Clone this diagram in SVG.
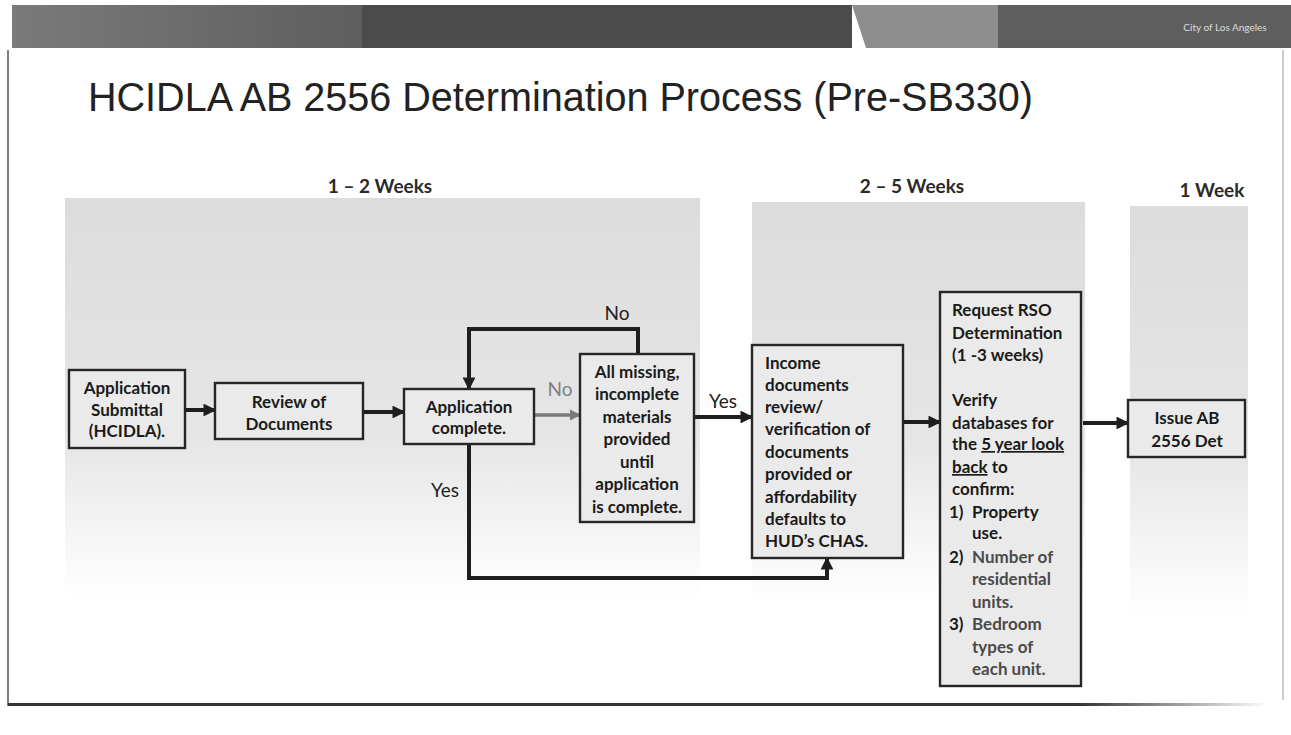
<svg xmlns="http://www.w3.org/2000/svg" width="1291" height="735" viewBox="0 0 1291 735">
<style>
.box{fill:#eaeaea;stroke:#262626;stroke-width:2.4}
.t{font-family:Lato,"Liberation Sans",sans-serif;font-weight:700;font-size:17px;fill:#1a1a1a}
.c{text-anchor:middle}
.lbl{font-family:Lato,"Liberation Sans",sans-serif;font-weight:400;font-size:19px;fill:#222;text-anchor:middle}
.wk{font-family:Lato,"Liberation Sans",sans-serif;font-weight:700;font-size:19px;fill:#2a2a2a;text-anchor:middle}
.lt{fill:#4a4a4a}
.con{fill:none;stroke:#1e1e1e;stroke-width:4;marker-end:url(#ah)}
</style>
<defs>
<marker id="ah" viewBox="0 0 10 10" refX="9" refY="5" markerWidth="3.2" markerHeight="3.2" orient="auto" markerUnits="strokeWidth"><path d="M0,0 L10,5 L0,10z" fill="#1e1e1e"/></marker>
<marker id="ahg" viewBox="0 0 10 10" refX="9" refY="5" markerWidth="3.2" markerHeight="3.2" orient="auto" markerUnits="strokeWidth"><path d="M0,0 L10,5 L0,10z" fill="#7a7a7a"/></marker>
<linearGradient id="band" x1="0" y1="0" x2="0" y2="1">
<stop offset="0" stop-color="#dcdcdc"/>
<stop offset="0.6" stop-color="#e6e6e6"/>
<stop offset="1" stop-color="#ffffff"/>
</linearGradient>
<linearGradient id="bot" x1="0" y1="0" x2="1" y2="0">
<stop offset="0" stop-color="#333"/>
<stop offset="0.85" stop-color="#333"/>
<stop offset="1" stop-color="#333" stop-opacity="0"/>
</linearGradient>
<linearGradient id="hdr" x1="0" y1="0" x2="1" y2="0">
<stop offset="0" stop-color="#7a7a7a"/>
<stop offset="1" stop-color="#5e5e5e"/>
</linearGradient>
</defs>
<rect width="1291" height="735" fill="#ffffff"/>
<g id="header">
<rect x="12" y="5" width="350" height="43" fill="url(#hdr)"/>
<rect x="362" y="5" width="490" height="43" fill="#4b4b4b"/>
<path d="M852,5 H998 V48 H866 Z" fill="#8e8e8e"/>
<rect x="998" y="5" width="293" height="43" fill="#5e5e5e"/>
<text x="1225" y="31" font-family="Lato,'Liberation Sans',sans-serif" font-size="10" fill="#dddddd" text-anchor="middle">City of Los Angeles</text>
</g>
<g id="frame" fill="none">
<path d="M8,50 V706" stroke="#555" stroke-width="1.5"/>
<path d="M1283,50 V700" stroke="#999" stroke-width="1"/>
<rect x="8" y="703" width="1260" height="3" fill="url(#bot)"/>
</g>
<text x="88" y="111" font-family="'Liberation Sans',Arial,sans-serif" font-size="41" fill="#222" textLength="945" lengthAdjust="spacingAndGlyphs">HCIDLA AB 2556 Determination Process (Pre-SB330)</text>
<g id="bands">
<rect x="65" y="198" width="635" height="400" fill="url(#band)"/>
<rect x="752" y="202" width="333" height="400" fill="url(#band)"/>
<rect x="1130" y="206" width="118" height="410" fill="url(#band)"/>
</g>
<text class="wk" x="380" y="193">1 – 2 Weeks</text>
<text class="wk" x="912" y="193">2 – 5 Weeks</text>
<text class="wk" x="1212" y="197">1 Week</text>
<g id="connectors">
<path class="con" d="M185,410 H215"/>
<path class="con" d="M363,412 H404"/>
<path d="M534,415 H580" fill="none" stroke="#7a7a7a" stroke-width="3.5" marker-end="url(#ahg)"/>
<path class="con" d="M638,354 V329 H469 V389"/>
<path class="con" d="M469,444 V578 H827 V558"/>
<path class="con" d="M695,417 H752"/>
<path class="con" d="M903,422 H940"/>
<path class="con" d="M1083,423 H1128" stroke-width="3.2"/>
<text class="lbl" x="617" y="320">No</text>
<text class="lbl" x="560" y="396" style="fill:#808080">No</text>
<text class="lbl" x="445" y="497">Yes</text>
<text class="lbl" x="723" y="408">Yes</text>
</g>
<g id="n-submittal">
<rect class="box" x="69" y="370" width="116" height="78"/>
<text class="t c" x="127" y="394">Application</text>
<text class="t c" x="127" y="416">Submittal</text>
<text class="t c" x="127" y="437">(HCIDLA).</text>
</g>
<g id="n-review">
<rect class="box" x="215" y="383" width="148" height="56" stroke-width="1.6"/>
<text class="t c" x="289" y="408">Review of</text>
<text class="t c" x="289" y="430">Documents</text>
</g>
<g id="n-complete">
<rect class="box" x="404" y="389" width="130" height="55"/>
<text class="t c" x="469" y="413">Application</text>
<text class="t c" x="469" y="434">complete.</text>
</g>
<g id="n-missing">
<rect class="box" x="580" y="354" width="114" height="168"/>
<text class="t c" x="637" y="378">All missing,</text>
<text class="t c" x="637" y="400">incomplete</text>
<text class="t c" x="637" y="423">materials</text>
<text class="t c" x="637" y="445">provided</text>
<text class="t c" x="637" y="468">until</text>
<text class="t c" x="637" y="490">application</text>
<text class="t c" x="637" y="513">is complete.</text>
</g>
<g id="n-income">
<rect class="box" x="752" y="345" width="151" height="213"/>
<text class="t" x="765" y="369">Income</text>
<text class="t" x="765" y="391">documents</text>
<text class="t" x="765" y="413">review/</text>
<text class="t" x="765" y="435">verification of</text>
<text class="t" x="765" y="458">documents</text>
<text class="t" x="765" y="480">provided or</text>
<text class="t" x="765" y="503">affordability</text>
<text class="t" x="765" y="525">defaults to</text>
<text class="t" x="765" y="547">HUD’s CHAS.</text>
</g>
<g id="n-rso">
<rect class="box" x="940" y="292" width="141" height="394"/>
<text class="t" x="952" y="316">Request RSO</text>
<text class="t" x="952" y="339">Determination</text>
<text class="t" x="952" y="361">(1 -3 weeks)</text>
<text class="t" x="952" y="406">Verify</text>
<text class="t" x="952" y="429">databases for</text>
<text class="t" x="952" y="450">the <tspan text-decoration="underline">5 year look</tspan></text>
<text class="t" x="952" y="473"><tspan text-decoration="underline">back</tspan> to</text>
<text class="t" x="952" y="495">confirm:</text>
<text class="t" x="949" y="518">1)</text>
<text class="t" x="972" y="518">Property</text>
<text class="t" x="972" y="539">use.</text>
<text class="t" x="949" y="563">2)</text>
<text class="t lt" x="972" y="563">Number of</text>
<text class="t lt" x="972" y="585">residential</text>
<text class="t lt" x="972" y="608">units.</text>
<text class="t" x="949" y="630">3)</text>
<text class="t lt" x="972" y="630">Bedroom</text>
<text class="t lt" x="972" y="653">types of</text>
<text class="t lt" x="972" y="675">each unit.</text>
</g>
<g id="n-issue">
<rect class="box" x="1128" y="400" width="117" height="57"/>
<text class="t c" x="1187" y="424">Issue AB</text>
<text class="t c" x="1187" y="447">2556 Det</text>
</g>
</svg>
